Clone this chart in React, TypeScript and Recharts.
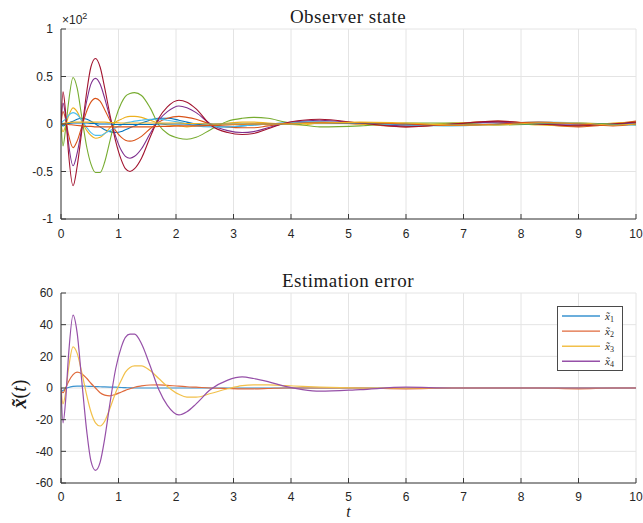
import { CartesianGrid, Legend, Line, LineChart, XAxis, YAxis } from 'recharts'

// sample times (s), shared by every series
const time = [
  0, 0.035, 0.08, 0.13, 0.21, 0.28, 0.36, 0.45, 0.52, 0.6,
  0.68, 0.76, 0.85, 0.95, 1.05, 1.12, 1.2, 1.28, 1.4, 1.55,
  1.7, 1.85, 2.05, 2.19, 2.35, 2.6, 2.9, 3.15, 3.35, 3.6,
  3.9, 4.2, 4.5, 5.2, 6.0, 6.8, 7.6, 8.3, 9.0, 9.6, 10,
]

// observer state (raw units, axis shows x10^2)
const stateBlue = [
  0, -2, -1, 1, 3, 5, 6, 5, 3, 0,
  -3, -6, -8, -9, -8, -6, -4, -2, 1, 4,
  6, 6, 4, 2, 0, -2, -3, -2, -1, 0,
  1, 2, 2, 1, 0, -1, 0, 1, 0, -1, 0,
]
const stateOrange = [
  0, 13, 5, -11, -25, -18, -3, 14, 23, 27,
  24, 15, 4, -7, -14, -17, -18, -17, -13, -5,
  2, 6, 8, 7, 5, 0, -3, -4, -4, -2,
  0, 1, 2, 0, -3, 0, 3, 0, -3, 0, 3,
]
const stateYellow = [
  0, -8, -2, 8, 17, 13, 3, -7, -12, -15,
  -14, -10, -4, 2, 5, 7, 8, 8, 7, 4,
  1, -1, -2, -3, -2, -1, 1, 2, 2, 1,
  0, -1, 1, 0, -2, 1, 2, -1, -2, 1, 2,
]
const statePurple = [
  0, 22, 8, -20, -44, -31, -5, 25, 42, 48,
  42, 27, 7, -13, -28, -34, -36, -34, -26, -10,
  4, 13, 19, 17, 12, 0, -7, -9, -8, -4,
  1, 3, 4, 1, -2, 0, 2, 0, -1, 0, 1,
]
const stateGreen = [
  0, -23, -5, 22, 49, 38, 8, -25, -42, -51,
  -51, -40, -18, 6, 22, 29, 32, 33, 30, 17,
  -1, -10, -15, -16, -14, -6, 3, 6, 7, 6,
  2, -1, -3, -2, 1, 1, -1, 0, 1, 0, -1,
]
const stateCyan = [
  0, 3, 5, 9, 12, 10, 4, -4, -9, -12,
  -12, -10, -7, -4, -1, 1, 2, 3, 4, 5,
  5, 4, 2, 0, -2, -3, -3, -2, -1, 0,
  1, 2, 2, 1, -1, -2, 0, 2, 1, -1, -1,
]
const stateRed = [
  0, 34, 12, -30, -65, -45, -8, 35, 60, 69,
  60, 38, 10, -18, -38, -47, -50, -47, -36, -14,
  6, 18, 25, 23, 16, -1, -9, -11, -10, -5,
  1, 4, 5, 1, -3, 0, 3, 0, -2, 0, 2,
]
const stateBlue2 = [
  0, 0, 0.5, 0.5, 1, 1, 1, 1, 0.5, 0.5,
  0, 0, 0, -0.5, -0.5, -0.5, -0.5, -0.5, -0.5, -0.5,
  0, 0, 0, 0, 0, 0, 0, 0, 0, 0,
  0, 0.5, 1, 1, 0, -1, -0.5, 0.5, 0.5, -0.5, 0,
]
const stateOrange2 = [
  0, 0, 0, -0.5, -1, -1.5, -2, -2.5, -2.5, -3,
  -3, -3, -3, -3, -3, -3, -3, -3, -3, -3,
  -2.5, -2.5, -2, -2, -2, -1.5, -1, -0.5, 0, 0,
  0.5, 1, 1.5, 1.5, 0, -1.5, 0, 2, 0, -2, 0,
]
const stateYellow2 = [
  0, 0.5, 1, 1.5, 2, 2, 2, 2, 2, 2,
  2, 2, 1.5, 1.5, 1, 1, 1, 1, 1, 1,
  1, 1, 1, 0.5, 0.5, 0, 0, 0, 0, 0,
  0, 0.5, 1, 2, 1, -1, -1, 1, 1, -1, 0,
]

// estimation error
const errX1 = [
  -2.3, -1.5, -0.5, 0.3, 1, 1.2, 1.2, 1.1, 1, 0.9,
  0.8, 0.7, 0.6, 0.5, 0.3, 0.2, 0.1, 0, 0, 0,
  0, 0, 0, 0, 0, 0, 0, 0, 0, 0,
  0, 0, 0, 0, 0, 0, 0, 0, 0, 0, 0,
]
const errX2 = [
  -2, -3, 0, 4, 8.5, 10, 9, 6, 3, 0,
  -3, -4.5, -5, -4, -2.5, -1.5, -0.5, 0.5, 1.3, 1.9,
  2, 1.6, 1.2, 0.8, 0.5, 0, -0.3, -0.5, -0.5, -0.3,
  0, 0, 0, 0, -0.5, 0, 0, 0, -0.5, 0, 0,
]
const errX3 = [
  0, -10, -3, 12, 26, 22, 10, -5, -15, -22,
  -24, -21, -13, -3, 5, 10, 13, 14, 14, 11,
  6, 1, -4, -5.8, -5.8, -3.5, -0.5, 1.5, 2, 2,
  1.5, 1, 0.5, 0, 0, 0, 0, 0, 0, 0, 0,
]
const errX4 = [
  0, -22, -8, 20, 46, 35, 5, -28, -46, -52,
  -47, -32, -10, 12, 26, 32, 34, 34, 28, 14,
  -1, -11, -17, -15, -10, -1, 5, 7, 6, 4,
  1, -1, -2, -1, 0.5, 0, 0, 0, 0, 0, 0,
]

const timeTicks = [0, 1, 2, 3, 4, 5, 6, 7, 8, 9, 10]
const stateTicks = [-100, -50, 0, 50, 100]
const errorTicks = [-60, -40, -20, 0, 20, 40, 60]

const stateSeries = [
  stateBlue, stateOrange, stateYellow, statePurple, stateGreen,
  stateCyan, stateRed, stateBlue2, stateOrange2, stateYellow2,
]
const stateColors = [
  '#0072BD', '#D95319', '#EDB120', '#7E2F8E', '#77AC30',
  '#4DBEEE', '#A2142F', '#0072BD', '#D95319', '#EDB120',
]
const errorSeries = [errX1, errX2, errX3, errX4]
const errorColors = ['#3a93d0', '#e06a3c', '#f2c04a', '#9650a8']
const errorNames = ['1', '2', '3', '4']

const stateData = time.map((t, i) => {
  const row: Record<string, number> = { t }
  stateSeries.forEach((s, k) => (row['s' + k] = s[i]))
  return row
})
const errorData = time.map((t, i) => {
  const row: Record<string, number> = { t }
  errorSeries.forEach((s, k) => (row['e' + k] = s[i]))
  return row
})

const axisColor = '#3a3a3a'
const gridColor = '#e4e4e4'
const tickStyle = { fontFamily: '"Liberation Sans", Arial, sans-serif', fontSize: 12, fill: '#262626' }
const serif = '"Liberation Serif", "Times New Roman", serif'

function ErrorLegend() {
  return (
    <svg width={66} height={65} style={{ display: 'block' }}>
      <rect x={0.5} y={0.5} width={65} height={64} fill="white" stroke="#4a4a4a" strokeWidth={1} />
      {errorNames.map((n, i) => {
        const cy = 10 + i * 15.1
        return (
          <g key={n}>
            <line x1={5} x2={43} y1={cy} y2={cy} stroke={errorColors[i]} strokeWidth={1.4} />
            <text x={48} y={cy + 3.5} fontFamily={serif} fontSize={11} fill="#262626">
              <tspan fontStyle="italic">x&#771;</tspan>
              <tspan fontSize={8} dy={2}>{n}</tspan>
            </text>
          </g>
        )
      })}
    </svg>
  )
}

export default function App() {
  return (
    <div style={{ position: 'absolute', left: 0, top: 0, width: 643, height: 523, background: 'white' }}>
      <div
        style={{
          position: 'absolute',
          left: 148,
          width: 400,
          top: 7,
          textAlign: 'center',
          fontFamily: serif,
          fontSize: 19,
          lineHeight: '19px',
          letterSpacing: 0.5,
          color: '#1a1a1a',
        }}
      >
        Observer state
      </div>
      <div
        style={{
          position: 'absolute',
          left: 62,
          top: 15,
          fontFamily: tickStyle.fontFamily,
          fontSize: 12,
          lineHeight: '11px',
          color: '#262626',
        }}
      >
        ×10<span style={{ position: 'relative', top: -5, fontSize: 9 }}>2</span>
      </div>

      <div style={{ position: 'absolute', left: 0, top: 0 }}>
        <LineChart width={643} height={240} data={stateData} margin={{ top: 29, right: 7, bottom: 1, left: 21 }}>
          <CartesianGrid stroke={gridColor} />
          <XAxis
            dataKey="t"
            type="number"
            domain={[0, 10]}
            ticks={timeTicks}
            allowDataOverflow
            height={20}
            tickSize={-5}
            tickMargin={15}
            stroke={axisColor}
            tick={tickStyle}
          />
          <XAxis
            xAxisId="top"
            dataKey="t"
            orientation="top"
            type="number"
            domain={[0, 10]}
            ticks={timeTicks}
            allowDataOverflow
            height={0}
            tickSize={-5}
            tick={false}
            stroke={axisColor}
          />
          <YAxis
            type="number"
            domain={[-100, 100]}
            ticks={stateTicks}
            allowDataOverflow
            width={40}
            tickSize={-5}
            tickMargin={13}
            tickFormatter={(v: number) => String(v / 100)}
            stroke={axisColor}
            tick={tickStyle}
          />
          <YAxis
            yAxisId="right"
            orientation="right"
            type="number"
            domain={[-100, 100]}
            ticks={stateTicks}
            allowDataOverflow
            width={0}
            tickSize={-5}
            tick={false}
            stroke={axisColor}
          />
          {stateSeries.map((_, k) => (
            <Line
              key={k}
              dataKey={'s' + k}
              xAxisId={k === stateSeries.length - 1 ? 'top' : 0}
              yAxisId={k === stateSeries.length - 1 ? 'right' : 0}
              type="monotone"
              stroke={stateColors[k]}
              strokeWidth={1.1}
              dot={false}
              isAnimationActive={false}
            />
          ))}
        </LineChart>
      </div>

      <div
        style={{
          position: 'absolute',
          left: 148,
          width: 400,
          top: 271,
          textAlign: 'center',
          fontFamily: serif,
          fontSize: 19,
          lineHeight: '19px',
          letterSpacing: 0.5,
          color: '#1a1a1a',
        }}
      >
        Estimation error
      </div>

      <div style={{ position: 'absolute', left: 0, top: 250 }}>
        <LineChart width={643} height={273} data={errorData} margin={{ top: 43, right: 7, bottom: 20, left: 21 }}>
          <CartesianGrid stroke={gridColor} />
          <XAxis
            dataKey="t"
            type="number"
            domain={[0, 10]}
            ticks={timeTicks}
            allowDataOverflow
            height={20}
            tickSize={-5}
            tickMargin={14}
            stroke={axisColor}
            tick={tickStyle}
            label={{
              value: 't',
              position: 'bottom',
              offset: 3,
              style: { fontFamily: serif, fontStyle: 'italic', fontSize: 16, fill: '#1a1a1a' },
            }}
          />
          <XAxis
            xAxisId="top"
            dataKey="t"
            orientation="top"
            type="number"
            domain={[0, 10]}
            ticks={timeTicks}
            allowDataOverflow
            height={0}
            tickSize={-5}
            tick={false}
            stroke={axisColor}
          />
          <YAxis
            type="number"
            domain={[-60, 60]}
            ticks={errorTicks}
            allowDataOverflow
            width={40}
            tickSize={-5}
            tickMargin={13}
            stroke={axisColor}
            tick={tickStyle}
            label={{
              content: () => (
                <text
                  x={19}
                  y={144}
                  transform="rotate(-90 19 144)"
                  textAnchor="middle"
                  dominantBaseline="central"
                  fontFamily={serif}
                  fontSize={20}
                  fill="#1a1a1a"
                >
                  <tspan fontWeight="bold" fontStyle="italic">x&#771;</tspan>
                  <tspan>(</tspan>
                  <tspan fontStyle="italic">t</tspan>
                  <tspan>)</tspan>
                </text>
              ),
            }}
          />
          <YAxis
            yAxisId="right"
            orientation="right"
            type="number"
            domain={[-60, 60]}
            ticks={errorTicks}
            allowDataOverflow
            width={0}
            tickSize={-5}
            tick={false}
            stroke={axisColor}
          />
          <Legend
            layout="horizontal"
            verticalAlign="middle"
            align="center"
            wrapperStyle={{ left: 557, top: 56, width: 66, height: 65 }}
            content={() => <ErrorLegend />}
          />
          {errorSeries.map((_, k) => (
            <Line
              key={k}
              dataKey={'e' + k}
              xAxisId={k === 0 ? 'top' : 0}
              yAxisId={k === 0 ? 'right' : 0}
              type="monotone"
              stroke={errorColors[k]}
              strokeWidth={1.2}
              dot={false}
              isAnimationActive={false}
            />
          ))}
        </LineChart>
      </div>
    </div>
  )
}
